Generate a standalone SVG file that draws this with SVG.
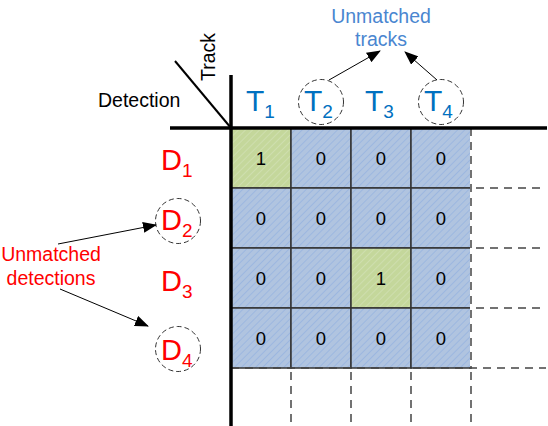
<svg xmlns="http://www.w3.org/2000/svg" width="548" height="426" viewBox="0 0 548 426">
<style>
.lbl{font-family:"Liberation Sans",Arial,sans-serif}
.num{font-family:"Liberation Sans",Arial,sans-serif;font-size:18.5px;fill:#000;text-anchor:middle}
.t{fill:#0070C0;font-family:"Liberation Sans",Arial,sans-serif;font-size:30px}
.d{fill:#FF0000;font-family:"Liberation Sans",Arial,sans-serif;font-size:29px}
.sub{font-size:19px}
.circ{fill:none;stroke:#333;stroke-width:1;stroke-dasharray:5,3}
.cellb{fill:url(#hb);stroke:#333;stroke-width:1.5}
.cellg{fill:url(#hg);stroke:#333;stroke-width:1.5}
.dash{stroke:#444;stroke-width:1.5;stroke-dasharray:8,6;fill:none}
.axis{stroke:#000;stroke-width:3.5;fill:none}
.arr{stroke:#000;stroke-width:1;fill:none;marker-end:url(#ah)}
</style>
<defs>
<pattern id="hb" width="5" height="5" patternUnits="userSpaceOnUse" patternTransform="rotate(45)">
<rect width="5" height="5" fill="#B0C4E0"/>
<line x1="0" y1="0" x2="0" y2="5" stroke="#8FAEE0" stroke-width="1.2"/>
</pattern>
<pattern id="hg" width="5" height="5" patternUnits="userSpaceOnUse" patternTransform="rotate(45)">
<rect width="5" height="5" fill="#C4D79B"/>
<line x1="0" y1="0" x2="0" y2="5" stroke="#D6E3BC" stroke-width="1.2"/>
</pattern>
<marker id="ah" markerWidth="14" markerHeight="11" refX="13" refY="5.5" orient="auto" markerUnits="userSpaceOnUse">
<path d="M0,0 L14,5.5 L0,11 z" fill="#000"/>
</marker>
</defs>

<g id="grid">
<rect class="cellg" x="231" y="128" width="60" height="60"/>
<rect class="cellb" x="291" y="128" width="60" height="60"/>
<rect class="cellb" x="351" y="128" width="60" height="60"/>
<rect class="cellb" x="411" y="128" width="60" height="60"/>
<rect class="cellb" x="231" y="188" width="60" height="60"/>
<rect class="cellb" x="291" y="188" width="60" height="60"/>
<rect class="cellb" x="351" y="188" width="60" height="60"/>
<rect class="cellb" x="411" y="188" width="60" height="60"/>
<rect class="cellb" x="231" y="248" width="60" height="60"/>
<rect class="cellb" x="291" y="248" width="60" height="60"/>
<rect class="cellg" x="351" y="248" width="60" height="60"/>
<rect class="cellb" x="411" y="248" width="60" height="60"/>
<rect class="cellb" x="231" y="308" width="60" height="60"/>
<rect class="cellb" x="291" y="308" width="60" height="60"/>
<rect class="cellb" x="351" y="308" width="60" height="60"/>
<rect class="cellb" x="411" y="308" width="60" height="60"/>
<line x1="471" y1="128" x2="471" y2="368" stroke="#fff" stroke-width="2"/>
<line class="dash" x1="471" y1="128" x2="471" y2="368"/>
<g class="num">
<text x="261" y="165">1</text><text x="321" y="165">0</text><text x="381" y="165">0</text><text x="441" y="165">0</text>
<text x="261" y="225">0</text><text x="321" y="225">0</text><text x="381" y="225">0</text><text x="441" y="225">0</text>
<text x="261" y="285">0</text><text x="321" y="285">0</text><text x="381" y="285">1</text><text x="441" y="285">0</text>
<text x="261" y="345">0</text><text x="321" y="345">0</text><text x="381" y="345">0</text><text x="441" y="345">0</text>
</g>
</g>

<g id="extension">
<line class="dash" x1="476" y1="188" x2="546" y2="188"/>
<line class="dash" x1="476" y1="248" x2="546" y2="248"/>
<line class="dash" x1="476" y1="308" x2="546" y2="308"/>
<line class="dash" x1="231" y1="368" x2="546" y2="368"/>
<line class="dash" x1="291" y1="372" x2="291" y2="426"/>
<line class="dash" x1="351" y1="372" x2="351" y2="426"/>
<line class="dash" x1="411" y1="372" x2="411" y2="426"/>
<line class="dash" x1="471" y1="372" x2="471" y2="426"/>
</g>

<g id="axes">
<line class="axis" x1="170" y1="128" x2="547" y2="128"/>
<line class="axis" x1="231" y1="75" x2="231" y2="426"/>
<line x1="175" y1="61" x2="231" y2="128" stroke="#000" stroke-width="2"/>
<text class="lbl" x="98" y="107" font-size="19.5" fill="#000">Detection</text>
<text class="lbl" x="215" y="57" font-size="19.5" fill="#000" text-anchor="middle" transform="rotate(-90 215 57)">Track</text>
</g>

<g id="tracks">
<text class="t" x="246" y="111">T<tspan class="sub" dy="7">1</tspan></text>
<circle class="circ" cx="321" cy="102" r="22.5"/>
<text class="t" x="304" y="111">T<tspan class="sub" dy="7">2</tspan></text>
<text class="t" x="365" y="111">T<tspan class="sub" dy="7">3</tspan></text>
<circle class="circ" cx="441" cy="102" r="22.5"/>
<text class="t" x="424" y="111">T<tspan class="sub" dy="7">4</tspan></text>
</g>

<g id="detections">
<text class="d" x="161" y="170">D<tspan class="sub" dy="7">1</tspan></text>
<circle class="circ" cx="178" cy="221" r="22.5"/>
<text class="d" x="161" y="230">D<tspan class="sub" dy="7">2</tspan></text>
<text class="d" x="161" y="291">D<tspan class="sub" dy="7">3</tspan></text>
<circle class="circ" cx="178" cy="349" r="22.5"/>
<text class="d" x="161" y="360">D<tspan class="sub" dy="7">4</tspan></text>
</g>

<g id="unmatched-tracks-label">
<text class="lbl" x="381" y="23" font-size="19.5" fill="#4A86D0" text-anchor="middle">Unmatched</text>
<text class="lbl" x="381" y="46" font-size="19.5" fill="#4A86D0" text-anchor="middle">tracks</text>
</g>
<g id="unmatched-detections-label">
<text class="lbl" x="51" y="261" font-size="19.5" fill="#FF0000" text-anchor="middle">Unmatched</text>
<text class="lbl" x="51" y="285" font-size="19.5" fill="#FF0000" text-anchor="middle">detections</text>
</g>

<g id="connectors">
<line class="arr" x1="329" y1="80" x2="380" y2="51"/>
<line class="arr" x1="437" y1="80" x2="405" y2="52"/>
<line class="arr" x1="58" y1="244" x2="156" y2="225"/>
<line class="arr" x1="60" y1="289" x2="148" y2="326"/>
</g>
</svg>
